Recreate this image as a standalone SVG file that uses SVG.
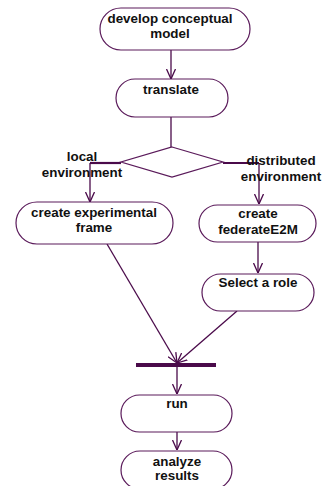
<svg xmlns="http://www.w3.org/2000/svg" width="324" height="486" viewBox="0 0 324 486">
<style>
.n{fill:#fff;stroke:#5a1a5a;stroke-width:1.2}
.t{font-family:"Liberation Sans",Arial,sans-serif;font-weight:bold;font-size:13.4px;fill:#111;text-anchor:middle}
.c{fill:none;stroke:#4a0a4a;stroke-width:1.3}
.b{fill:none;stroke:#4a0a4a;stroke-width:2.2}
</style>
<defs>
<marker id="a" viewBox="0 0 10 10" refX="10" refY="5" markerWidth="10" markerHeight="10" markerUnits="userSpaceOnUse" orient="auto">
<path d="M0,0.5 L10,5 L0,9.5" fill="none" stroke="#4a0a4a" stroke-width="1.3"/>
</marker>
</defs>
<g id="connectors">
<path class="c" d="M171,50 V79" marker-end="url(#a)"/>
<path class="c" d="M171,117 V147"/>
<path class="b" d="M121,163 H90"/>
<path class="c" d="M90,163 V202" marker-end="url(#a)"/>
<path class="b" d="M223,163 H259"/>
<path class="c" d="M259,163 V204" marker-end="url(#a)"/>
<path class="c" d="M258,242 V273" marker-end="url(#a)"/>
<path class="c" d="M107,244 L177,363" marker-end="url(#a)"/>
<path class="c" d="M237,311 L177,363" marker-end="url(#a)"/>
<path class="c" d="M177,367 V394" marker-end="url(#a)"/>
<path class="c" d="M177,432 V450" marker-end="url(#a)"/>
</g>
<g id="develop">
<rect class="n" x="100" y="8" width="150" height="42" rx="21"/>
<text class="t" x="170" y="23">develop conceptual</text>
<text class="t" x="170" y="38">model</text>
</g>
<g id="translate">
<rect class="n" x="116" y="79" width="112" height="38" rx="19"/>
<text class="t" x="171" y="94">translate</text>
</g>
<g id="decision">
<polygon class="n" points="172,147 223,162 172,177 121,162"/>
</g>
<g id="labels">
<text class="t" x="82" y="161">local</text>
<text class="t" x="82" y="177">environment</text>
<text class="t" x="281" y="165">distributed</text>
<text class="t" x="281" y="181">environment</text>
</g>
<g id="experimental">
<rect class="n" x="16" y="202" width="157" height="42" rx="21"/>
<text class="t" x="94" y="217">create experimental</text>
<text class="t" x="94" y="232">frame</text>
</g>
<g id="federate">
<rect class="n" x="199" y="205" width="117" height="37" rx="18.5"/>
<text class="t" x="258" y="218">create</text>
<text class="t" x="258" y="234">federateE2M</text>
</g>
<g id="role">
<rect class="n" x="202" y="274" width="112" height="37" rx="18.5"/>
<text class="t" x="258" y="287">Select a role</text>
</g>
<g id="join">
<rect x="136" y="363" width="80" height="4" fill="#4a0a4a"/>
</g>
<g id="run">
<rect class="n" x="121" y="395" width="111" height="37" rx="18.5"/>
<text class="t" x="177" y="408">run</text>
</g>
<g id="analyze">
<rect class="n" x="121" y="451" width="111" height="38" rx="19"/>
<text class="t" x="177" y="466">analyze</text>
<text class="t" x="177" y="480">results</text>
</g>
</svg>
